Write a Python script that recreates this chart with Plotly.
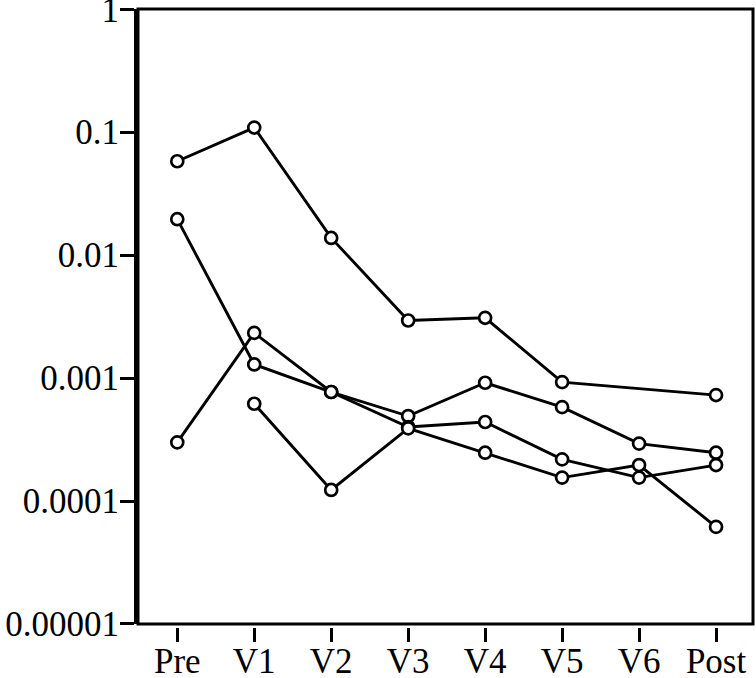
import plotly.graph_objects as go

categories = ["Pre", "V1", "V2", "V3", "V4", "V5", "V6", "Post"]

series_a = [0.058, 0.109, 0.0138, 0.00294, 0.00309, 0.000927, None, 0.000727]
series_b = [0.0196, 0.00129, 0.00077, 0.000491, 0.000916, 0.00058, 0.000293, 0.000247]
series_c = [0.0003, 0.00233, 0.00077, 0.0004, 0.000439, 0.000218, 0.000155, 0.000196]
series_d = [None, 0.000618, 0.000123, 0.00039, 0.000247, 0.000155, 0.000196, 0.0000616]

y_tick_vals = [1e-5, 1e-4, 1e-3, 1e-2, 1e-1, 1]
y_tick_text = ["0.00001", "0.0001", "0.001", "0.01", "0.1", "1"]

FONT = "Liberation Serif"
x_idx = list(range(len(categories)))

fig = go.Figure()
for s in [series_a, series_b, series_c, series_d]:
    fig.add_trace(go.Scatter(
        x=x_idx, y=s, mode="lines+markers", connectgaps=True,
        line=dict(color="black", width=2.9),
        marker=dict(symbol="circle", size=12, color="white",
                    line=dict(color="black", width=2.7)),
        showlegend=False, cliponaxis=False,
    ))

d = 3 / 618
fig.update_layout(
    width=756, height=678,
    margin=dict(l=138, r=3, t=9, b=51, autoexpand=False),
    paper_bgcolor="white", plot_bgcolor="white",
    font=dict(family=FONT, size=35, color="black"),
    xaxis=dict(
        range=[-0.51, 7.48], anchor="free", position=0, automargin=False,
        tickmode="array", tickvals=x_idx, ticktext=categories,
        ticks="outside", ticklen=14, tickwidth=3, tickcolor="black",
        showline=False, showgrid=False, zeroline=False,
        ticklabeloverflow="allow", ticklabelstandoff=-11,
        tickfont=dict(family=FONT, size=35, color="black"),
    ),
    yaxis=dict(
        type="log", range=[-5.0005, 0.002], domain=[d, 1], automargin=False,
        tickmode="array", tickvals=y_tick_vals, ticktext=y_tick_text,
        ticks="outside", ticklen=14, tickwidth=3, tickcolor="black",
        showline=True, linewidth=4, linecolor="black",
        showgrid=False, zeroline=False,
        ticklabeloverflow="allow", ticklabelstandoff=-6,
        tickfont=dict(family=FONT, size=35, color="black"),
    ),
    shapes=[dict(type="rect", xref="paper", yref="paper",
                 x0=0, x1=1, y0=d, y1=1,
                 line=dict(color="black", width=3), layer="below")],
)

fig.write_html("out.html", config={"displayModeBar": False},
               post_script="document.body.style.margin='0';document.body.style.padding='0';")
